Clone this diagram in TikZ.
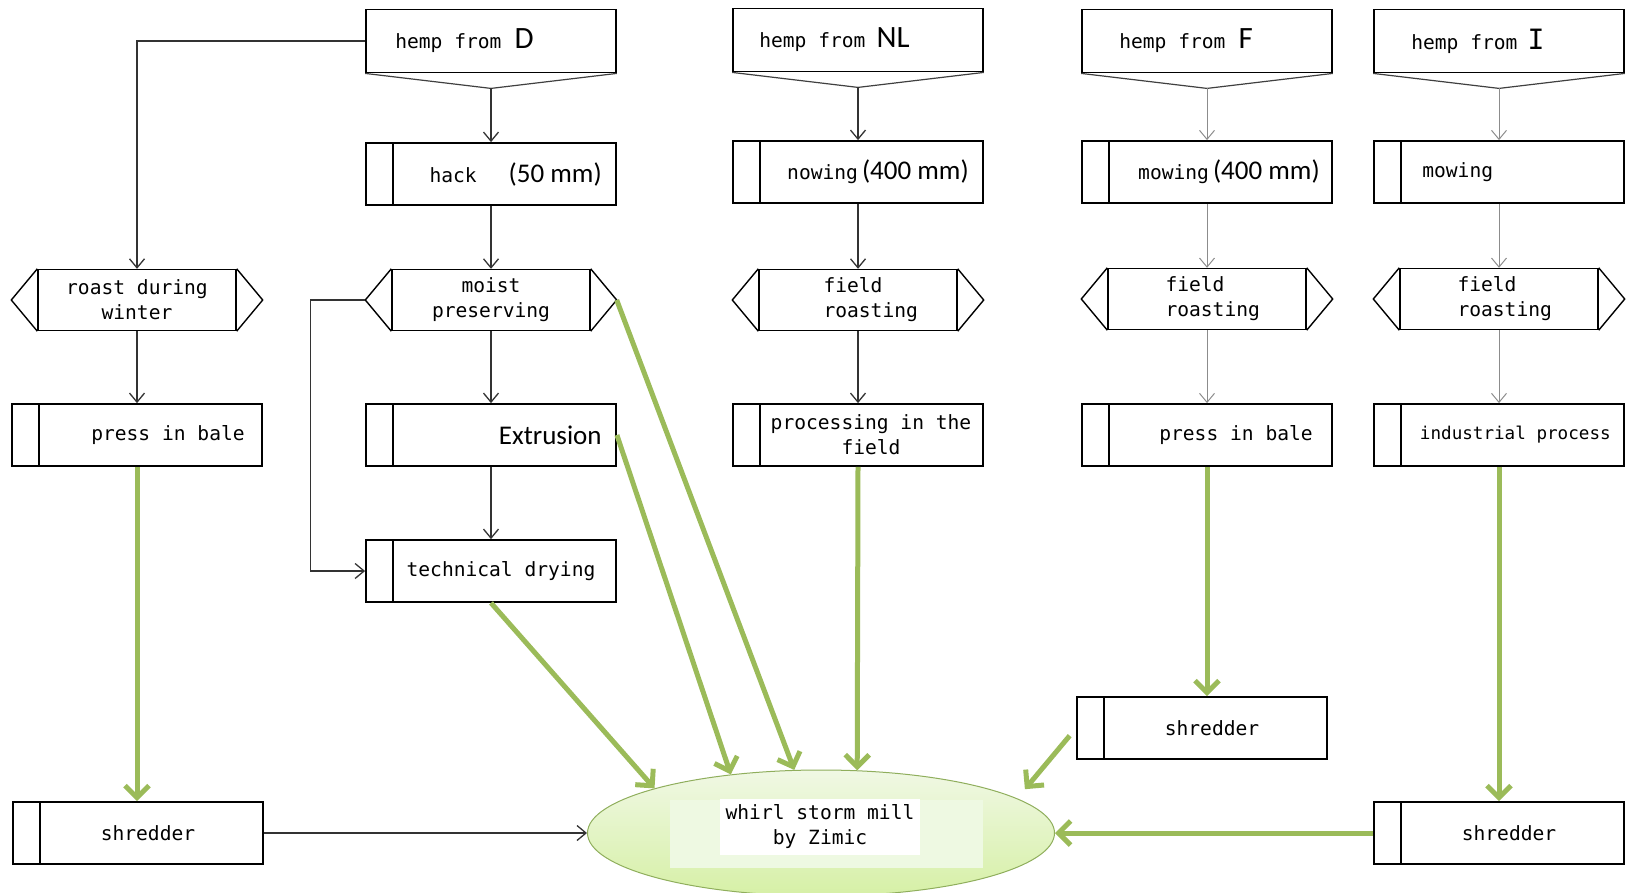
\documentclass[tikz,border=0pt]{standalone}
\usepackage{fontspec}
\setmainfont{Carlito}
\newfontfamily\monof{DejaVu Sans Mono}
\usepackage{tikz}
\usetikzlibrary{shapes.geometric, arrows.meta}
\usepackage{xcolor}
\definecolor{hempgreen}{HTML}{9BBB59}
\definecolor{milltop}{HTML}{F0F8E4}
\definecolor{millbot}{HTML}{D6F0A6}
\definecolor{millpale}{HTML}{EEF9E2}
\definecolor{milledge}{HTML}{8FAE5C}
\newcommand{\monotxt}{\monof\fontsize{19.6}{25}\selectfont}
\newcommand{\sanstxt}{\rmfamily\fontsize{27}{30}\selectfont}
\newcommand{\bigtxt}{\rmfamily\fontsize{31}{32}\selectfont}

\tikzset{
  src/.style={draw, line width=1.8pt, minimum width=250pt, minimum height=63pt, inner sep=0pt,
    append after command={\pgfextra{\let\sn\tikzlastnode
      \draw[line width=1.2pt, black!75] (\sn.south west) -- ([yshift=-15pt]\sn.south) -- (\sn.south east);}}},
  proc/.style={draw, line width=1.8pt, minimum width=250pt, minimum height=62pt, inner sep=0pt,
    path picture={\draw[line width=1.2pt] ([xshift=27pt]path picture bounding box.north west) -- ([xshift=27pt]path picture bounding box.south west);}},
  hex/.style={draw, line width=1.4pt, minimum width=198pt, minimum height=61pt, inner sep=0pt, align=center, font=\monotxt,
    append after command={\pgfextra{\let\hn\tikzlastnode
      \draw[line width=1.4pt] (\hn.north west) -- ([xshift=-26pt]\hn.west) -- (\hn.south west)
        (\hn.north east) -- ([xshift=26pt]\hn.east) -- (\hn.south east);}}},
  lbl/.style={inner sep=0pt, font=\monotxt},
  flow/.style={->, line width=1.3pt, draw=black!80},
  flowg/.style={->, line width=1pt, draw=black!45},
  feed/.style={line width=5pt, draw=hempgreen, -{Straight Barb[length=12pt,width=24pt]}},
  mill/.style={ellipse, draw=milledge, line width=1pt, top color=milltop, bottom color=millbot,
    minimum width=467pt, minimum height=126pt, inner sep=0pt}
}

\begin{document}
\begin{tikzpicture}[x=1pt, y=-1pt, >={Straight Barb[length=9pt,width=15pt]}]
\useasboundingbox (0,0) rectangle (1628,892);
% \draw[densely dotted] (0,0) grid[step=100] (1628,892);

% sources
\node[src, label={[lbl,anchor=west,xshift=30pt]west:hemp from\hspace{13pt}{\bigtxt D}}] (hD) at (491,41) {};
\node[src, label={[lbl,anchor=west,xshift=27pt]west:hemp from\hspace{11pt}{\bigtxt NL}}] (hNL) at (858,40) {};
\node[src, label={[lbl,anchor=west,xshift=38pt]west:hemp from\hspace{13pt}{\bigtxt F}}] (hF) at (1207,41) {};
\node[src, label={[lbl,anchor=west,xshift=38pt]west:hemp from\hspace{10pt}{\monof\fontsize{28}{30}\selectfont I}}] (hI) at (1499,41) {};

% left column
\node[hex] (roast) at (137,300) {roast during\\winter};
\node[proc, label={[lbl,anchor=east,xshift=-18pt]east:press in bale}] (pressL) at (137,435) {};
\node[proc, label={[lbl,xshift=10pt]center:shredder}] (shredL) at (138,833) {};

% D column
\node[proc, label={[lbl,anchor=east,xshift=-15pt]east:hack\hspace{32pt}{\sanstxt (50 mm)}}] (hack) at (491,174) {};
\node[hex] (moist) at (491,300) {moist\\preserving};
\node[proc, label={[lbl,anchor=east,xshift=-15pt]east:{\sanstxt Extrusion}}] (extr) at (491,435) {};
\node[proc, label={[lbl,xshift=10pt]center:technical drying}] (tdry) at (491,571) {};

% NL column
\node[proc, label={[lbl,anchor=east,xshift=-15pt]east:nowing\hspace{4pt}{\sanstxt (400 mm)}}] (mowNL) at (858,172) {};
\node[hex, label={[lbl,anchor=west,align=left,xshift=65pt]west:field\\roasting}] (frNL) at (858,300) {};
\node[proc, label={[lbl,align=center,xshift=13pt]center:processing in the\\field}] (procNL) at (858,435) {};

% F column
\node[proc, label={[lbl,anchor=east,xshift=-13pt]east:mowing\hspace{4pt}{\sanstxt (400 mm)}}] (mowF) at (1207,172) {};
\node[hex, label={[lbl,anchor=west,align=left,xshift=58pt]west:field\\roasting}] (frF) at (1207,299) {};
\node[proc, label={[lbl,anchor=east,xshift=-20pt]east:press in bale}] (pressF) at (1207,435) {};
\node[proc, label={[lbl,xshift=10pt]center:shredder}] (shredF) at (1202,728) {};

% I column
\node[proc, label={[lbl,anchor=west,xshift=49pt]west:mowing}] (mowI) at (1499,172) {};
\node[hex, label={[lbl,anchor=west,align=left,xshift=58pt]west:field\\roasting}] (frI) at (1499,299) {};
\node[proc, label={[lbl,anchor=east,xshift=-14pt,font=\monof\fontsize{17.6}{22}\selectfont]east:industrial process}] (indI) at (1499,435) {};
\node[proc, label={[lbl,xshift=10pt]center:shredder}] (shredI) at (1499,833) {};

% mill
\node[mill] (mill) at (821,833) {};
\fill[millpale] (670,800) rectangle (983,868);
\node[fill=white, minimum width=200pt, minimum height=56pt, inner sep=0pt, align=center, font=\monotxt] (millTxt) at (820,827) {whirl storm mill\\by Zimic};

% black connectors
\draw[flow] (hD.west) -| (roast.north);
\draw[flow] (roast.south) -- (pressL.north);
\draw[flow] ([yshift=-15pt]hD.south) -- (hack.north);
\draw[flow] (hack.south) -- (moist.north);
\draw[flow] (moist.south) -- (extr.north);
\draw[flow] (extr.south) -- (tdry.north);
\draw[flow] ([xshift=-26pt]moist.west) -- ++(-55,0) |- (tdry.west);
\draw[flow] ([yshift=-15pt]hNL.south) -- (mowNL.north);
\draw[flow] (mowNL.south) -- (frNL.north);
\draw[flow] (frNL.south) -- (procNL.north);
\draw[flowg] ([yshift=-15pt]hF.south) -- (mowF.north);
\draw[flowg] (mowF.south) -- (frF.north);
\draw[flowg] (frF.south) -- (pressF.north);
\draw[flowg] ([yshift=-15pt]hI.south) -- (mowI.north);
\draw[flowg] (mowI.south) -- (frI.north);
\draw[flowg] (frI.south) -- (indI.north);
\draw[flow] (shredL.east) -- (mill.west);

% green feeds
\draw[feed] (pressL.south) -- (pressL.south |- shredL.north);
\draw[feed] (pressF.south) -- (pressF.south |- shredF.north);
\draw[feed] (indI.south) -- (shredI.north);
\draw[feed] (tdry.south) -- (mill.165);
\draw[feed] (extr.east) -- (mill.147);
\draw[feed] ([xshift=26pt]moist.east) -- (mill.113);
\draw[feed] (procNL.south) -- (mill.60);
\draw[feed, shorten <=10pt, shorten >=12pt] (shredF.west) -- (mill.10);
\draw[feed] (shredI.west) -- (mill.east);
\end{tikzpicture}
\end{document}
